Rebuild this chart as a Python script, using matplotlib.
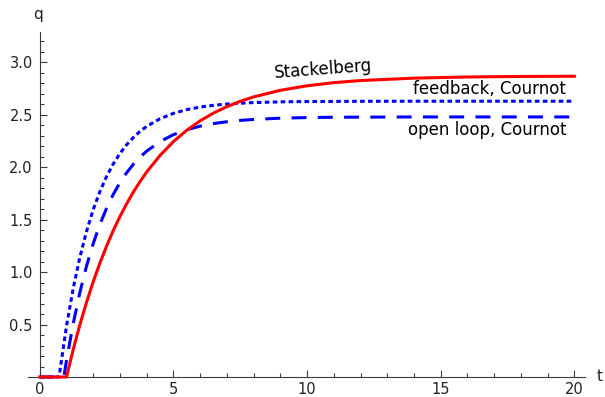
import numpy as np
import matplotlib.pyplot as plt
from matplotlib.ticker import MultipleLocator, FormatStrFormatter

# output over time for the three equilibria
t_stack = [0, 1.0, 1.25, 1.5, 1.75, 2.0, 2.25, 2.5, 2.75, 3.0, 3.25, 3.5, 3.75, 4.0,
           4.5, 5.0, 5.5, 6.0, 6.5, 7.0, 7.5, 8.0, 9.0, 10.0, 11.0, 12.0, 14.0, 16.0, 18.0, 20.0]
q_stack = [0, 0, 0.261, 0.498, 0.713, 0.909, 1.087, 1.249, 1.397, 1.531, 1.652, 1.763, 1.863, 1.955,
           2.113, 2.245, 2.353, 2.443, 2.517, 2.578, 2.629, 2.671, 2.734, 2.777, 2.807, 2.827, 2.850, 2.861, 2.866, 2.868]

t_open = [0, 0.9, 1.0, 1.25, 1.5, 1.75, 2.0, 2.25, 2.5, 2.75, 3.0, 3.25, 3.5, 3.75, 4.0,
          4.5, 5.0, 5.5, 6.0, 6.5, 7.0, 7.5, 8.0, 9.0, 10.0, 11.0, 12.0, 14.0, 16.0, 18.0, 20.0]
q_open = [0, 0, 0.157, 0.508, 0.806, 1.059, 1.273, 1.456, 1.610, 1.742, 1.853, 1.948, 2.028, 2.097, 2.154,
          2.245, 2.311, 2.358, 2.392, 2.417, 2.434, 2.447, 2.456, 2.468, 2.474, 2.477, 2.478, 2.48, 2.48, 2.48, 2.48]

t_feed = [0, 0.72, 1.0, 1.25, 1.5, 1.75, 2.0, 2.25, 2.5, 2.75, 3.0, 3.25, 3.5, 3.75, 4.0,
          4.5, 5.0, 5.5, 6.0, 6.5, 7.0, 7.5, 8.0, 9.0, 10.0, 12.0, 14.0, 16.0, 18.0, 20.0]
q_feed = [0, 0, 0.486, 0.844, 1.142, 1.390, 1.597, 1.769, 1.913, 2.032, 2.132, 2.215, 2.284, 2.342, 2.390,
          2.463, 2.514, 2.550, 2.574, 2.591, 2.603, 2.611, 2.617, 2.624, 2.627, 2.629, 2.63, 2.63, 2.63, 2.63]

axis_col = "#3a3a3a"
text_col = "#222222"

fig = plt.figure(figsize=(6.05, 3.97), dpi=100)
ax = fig.add_axes([0.0463, 0.0451, 0.9207, 0.8743])

ax.plot(t_feed, q_feed, color="#0000ff", lw=2.2, linestyle=(0, (1.5, 1.1)),
        dash_capstyle="butt", clip_on=False, zorder=3)
ax.plot(t_open, q_open, color="#0000ff", lw=2.2, linestyle=(0, (4.9, 3.7)),
        dash_capstyle="butt", clip_on=False, zorder=3)
ax.plot(t_stack, q_stack, color="#ff0000", lw=2.2, clip_on=False, zorder=4)

ax.set_xlim(-0.44, 20.4)
ax.set_ylim(-0.02, 3.29)

# axes through the origin, ticks pointing inwards
for side in ["top", "right"]:
    ax.spines[side].set_visible(False)
ax.spines["bottom"].set_position(("data", 0))
ax.spines["left"].set_position(("data", 0))
ax.spines["left"].set_bounds(0, 3.29)
for side in ["bottom", "left"]:
    ax.spines[side].set_color(axis_col)
    ax.spines[side].set_linewidth(0.8)

ax.xaxis.set_major_locator(MultipleLocator(5))
ax.xaxis.set_minor_locator(MultipleLocator(1))
ax.yaxis.set_major_locator(MultipleLocator(0.5))
ax.yaxis.set_minor_locator(MultipleLocator(0.1))
ax.yaxis.set_major_formatter(FormatStrFormatter("%.1f"))
ax.set_yticks([0.5, 1.0, 1.5, 2.0, 2.5, 3.0])
ax.set_xticks([0, 5, 10, 15, 20])

ax.tick_params(which="both", direction="in", color=axis_col, width=0.8)
ax.tick_params(which="major", length=4.8)
ax.tick_params(which="minor", length=2.8)
ax.tick_params(axis="x", which="major", pad=3.5, labelsize=10.5, labelcolor=text_col)
ax.tick_params(axis="y", which="major", pad=5, labelsize=10.5, labelcolor=text_col)

ax.text(20.96, 0.0, "t", fontsize=11, color=text_col, ha="center", va="center", clip_on=False)
ax.text(-0.07, 3.457, "q", fontsize=11, color=text_col, ha="center", va="center", clip_on=False)

ax.text(10.63, 2.89, "Stackelberg", fontsize=12, color="black", rotation=4.3,
        rotation_mode="anchor", ha="center", va="baseline")
ax.text(19.69, 2.695, "feedback, Cournot", fontsize=12, color="black", ha="right", va="baseline")
ax.text(19.69, 2.305, "open loop, Cournot", fontsize=12, color="black", ha="right", va="baseline")

fig.savefig("out.png", dpi=100)
